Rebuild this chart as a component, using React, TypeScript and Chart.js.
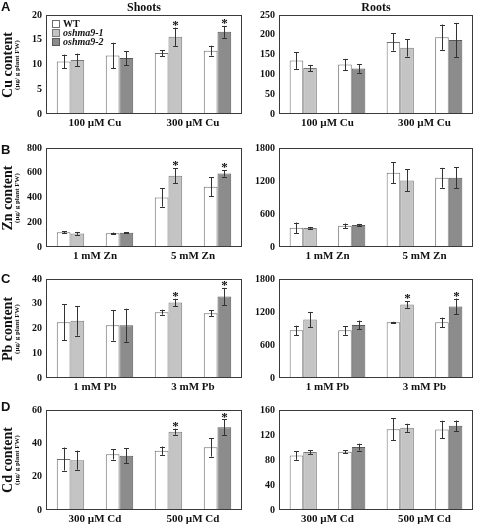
import React, { useEffect, useRef } from 'react';
import { Chart, registerables } from 'chart.js';
Chart.register(...registerables);

// ---------- data ----------
const seriesNames = ['WT', 'oshma9-1', 'oshma9-2'];

// A: Cu
const cuGroups = ['100 µM Cu', '300 µM Cu'];
const cuShootTicks = [0, 5, 10, 15, 20];
const cuShootWT = [10.6, 11.8, 12.3, 12.8];
const cuShootWTErr = [1.4, 2.6, 0.6, 1.0];
const cuShootM1 = [10.9, 15.6];
const cuShootM1Err = [1.3, 1.85];
const cuShootM1Star = [false, true];
const cuShootM2 = [11.3, 16.6];
const cuShootM2Err = [1.4, 1.2];
const cuShootM2Star = [false, true];

const cuRootTicks = [0, 50, 100, 150, 200, 250];
const cuRootWT = [135, 125, 182, 194];
const cuRootWTErr = [21, 14, 22, 32];
const cuRootM1 = [116, 167];
const cuRootM1Err = [8, 22];
const cuRootM1Star = [false, false];
const cuRootM2 = [115, 187];
const cuRootM2Err = [11, 43];
const cuRootM2Star = [false, false];

// B: Zn
const znGroups = ['1 mM Zn', '5 mM Zn'];
const znShootTicks = [0, 200, 400, 600, 800];
const znShootWT = [120, 112, 401, 487];
const znShootWTErr = [8, 5, 75, 75];
const znShootM1 = [110, 575];
const znShootM1Err = [12, 60];
const znShootM1Star = [false, true];
const znShootM2 = [115, 594];
const znShootM2Err = [5, 25];
const znShootM2Star = [false, true];

const znRootTicks = [0, 600, 1200, 1800];
const znRootWT = [350, 387, 1351, 1259];
const znRootWTErr = [95, 40, 190, 180];
const znRootM1 = [344, 1210];
const znRootM1Err = [20, 200];
const znRootM1Star = [false, false];
const znRootM2 = [400, 1259];
const znRootM2Err = [20, 195];
const znRootM2Star = [false, false];

// C: Pb
const pbGroups = ['1 mM Pb', '3 mM Pb'];
const pbShootTicks = [0, 10, 20, 30, 40];
const pbShootWT = [22.5, 21.3, 26.6, 26.2];
const pbShootWTErr = [7.2, 6.2, 1.0, 1.1];
const pbShootM1 = [23.1, 30.5];
const pbShootM1Err = [6.0, 1.5];
const pbShootM1Star = [false, true];
const pbShootM2 = [21.3, 32.9];
const pbShootM2Err = [6.7, 3.5];
const pbShootM2Star = [false, true];

const pbRootTicks = [0, 600, 1200, 1800];
const pbRootWT = [866, 866, 1013, 1013];
const pbRootWTErr = [85, 80, 10, 85];
const pbRootM1 = [1062, 1336];
const pbRootM1Err = [140, 60];
const pbRootM1Star = [false, true];
const pbRootM2 = [964, 1300];
const pbRootM2Err = [80, 145];
const pbRootM2Star = [false, true];

// D: Cd
const cdGroups = ['300 µM Cd', '500 µM Cd'];
const cdShootTicks = [0, 20, 40, 60];
const cdShootWT = [30.6, 33.4, 35.6, 37.6];
const cdShootWTErr = [6.9, 3.1, 2.5, 5.6];
const cdShootM1 = [29.9, 47.0];
const cdShootM1Err = [5.7, 1.8];
const cdShootM1Star = [false, true];
const cdShootM2 = [32.6, 49.6];
const cdShootM2Err = [4.4, 4.7];
const cdShootM2Star = [false, true];

const cdRootTicks = [0, 40, 80, 120, 160];
const cdRootWT = [87.3, 93.2, 129.3, 128.8];
const cdRootWTErr = [7, 2.5, 18, 14];
const cdRootM1 = [92.7, 131.5];
const cdRootM1Err = [3, 6.5];
const cdRootM1Star = [false, false];
const cdRootM2 = [100.7, 134.7];
const cdRootM2Err = [5.5, 8.5];
const cdRootM2Star = [false, false];

// ---------- styling ----------
const SERIF = '"Liberation Serif", "Times New Roman", serif';
const SANS = '"Liberation Sans", Arial, sans-serif';
const COLORS = {
  wtFill: '#ffffff', wtBorder: '#6e6e6e',
  m1Fill: '#c4c4c4', m1Border: '#7a7a7a',
  m2Fill: '#8c8c8c', m2Border: '#5a5a5a',
};
const Y_W = 40, PAD_T = 8, X_H = 20, PAD_R = 2;

type PanelCfg = {
  key: string; left: number; top: number; right: number; bottom: number;
  groups: string[]; ticks: number[];
  wt: number[]; wtErr: number[];
  m1: number[]; m1Err: number[]; m1Star: boolean[];
  m2: number[]; m2Err: number[]; m2Star: boolean[];
};

const spread1 = (v: any[]) => [v[0], null, v[1], null];
const spread2 = (v: any[]) => [null, v[0], null, v[1]];

const boxPlugin = {
  id: 'boxFrame',
  afterDraw(chart: any) {
    const { ctx, chartArea: a } = chart;
    ctx.save();
    ctx.strokeStyle = '#3a3a3a';
    ctx.lineWidth = 1;
    ctx.strokeRect(a.left + 0.5, a.top + 0.5, a.right - a.left - 1, a.bottom - a.top - 1);
    ctx.restore();
  },
};

const errPlugin = {
  id: 'errBars',
  afterDatasetsDraw(chart: any) {
    const { ctx } = chart;
    const ys = chart.scales.y;
    chart.data.datasets.forEach((ds: any, i: number) => {
      const meta = chart.getDatasetMeta(i);
      meta.data.forEach((el: any, j: number) => {
        const v = ds.data[j];
        if (v === null || v === undefined) return;
        const e = ds.errors[j] || 0;
        const x = Math.round(el.x) + 0.5;
        const y1 = ys.getPixelForValue(v + e);
        const y2 = ys.getPixelForValue(v - e);
        ctx.save();
        ctx.strokeStyle = '#333';
        ctx.lineWidth = 1;
        ctx.beginPath();
        ctx.moveTo(x, y1); ctx.lineTo(x, y2);
        ctx.moveTo(x - 2.5, Math.round(y1) + 0.5); ctx.lineTo(x + 2.5, Math.round(y1) + 0.5);
        ctx.moveTo(x - 2.5, Math.round(y2) + 0.5); ctx.lineTo(x + 2.5, Math.round(y2) + 0.5);
        ctx.stroke();
        if (ds.stars && ds.stars[j]) {
          ctx.fillStyle = '#111';
          ctx.font = `bold 13px ${SERIF}`;
          ctx.textAlign = 'center';
          ctx.textBaseline = 'alphabetic';
          ctx.fillText('*', x, y1 + 1);
        }
        ctx.restore();
      });
    });
  },
};

function Panel({ cfg }: { cfg: PanelCfg }) {
  const ref = useRef<HTMLCanvasElement>(null);
  const w = cfg.right - cfg.left + Y_W + PAD_R;
  const h = cfg.bottom - cfg.top + PAD_T + X_H;
  useEffect(() => {
    const m1Map = [0, null, 1, null];
    const m2Map = [null, 0, null, 1];
    const chart = new Chart(ref.current as HTMLCanvasElement, {
      type: 'bar',
      data: {
        labels: ['1', '2', '3', '4'],
        datasets: [
          {
            label: seriesNames[0], data: cfg.wt, errors: cfg.wtErr, stars: [false, false, false, false],
            backgroundColor: COLORS.wtFill, borderColor: COLORS.wtBorder, borderWidth: 1,
          } as any,
          {
            label: seriesNames[1], data: spread1(cfg.m1), errors: spread1(cfg.m1Err),
            stars: m1Map.map((k) => (k === null ? false : cfg.m1Star[k as number])),
            backgroundColor: COLORS.m1Fill, borderColor: COLORS.m1Border, borderWidth: 1,
          } as any,
          {
            label: seriesNames[2], data: spread2(cfg.m2), errors: spread2(cfg.m2Err),
            stars: m2Map.map((k) => (k === null ? false : cfg.m2Star[k as number])),
            backgroundColor: COLORS.m2Fill, borderColor: COLORS.m2Border, borderWidth: 1,
          } as any,
        ],
      },
      options: {
        animation: false,
        responsive: false,
        devicePixelRatio: 1,
        layout: { padding: { top: PAD_T, right: PAD_R, left: 0, bottom: 0 } },
        plugins: { legend: { display: false }, tooltip: { enabled: false } },
        datasets: { bar: { skipNull: true, categoryPercentage: 0.56, barPercentage: 1 } } as any,
        scales: {
          x: { display: false, offset: true },
          x2: {
            type: 'category', labels: cfg.groups, position: 'bottom', offset: true,
            grid: { display: false, drawTicks: false }, border: { display: false },
            ticks: { font: { family: SERIF, size: 11, weight: 'bold' }, color: '#111', padding: 3, maxRotation: 0, autoSkip: false },
            afterFit: (s: any) => { s.height = X_H; s.paddingLeft = 0; s.paddingRight = 0; },
          } as any,
          y: {
            min: 0, max: cfg.ticks[cfg.ticks.length - 1],
            grid: { display: false, drawTicks: false }, border: { display: false },
            ticks: {
              font: { family: SERIF, size: 10, weight: 'bold' }, color: '#111', padding: 4,
              callback: (v: any) => String(v),
            },
            afterBuildTicks: (s: any) => { s.ticks = cfg.ticks.map((v) => ({ value: v })); },
            afterFit: (s: any) => { s.width = Y_W; s.paddingTop = 0; s.paddingBottom = 0; },
          } as any,
        },
      },
      plugins: [boxPlugin, errPlugin],
    } as any);
    return () => chart.destroy();
  }, [cfg]);
  return (
    <canvas
      ref={ref}
      width={w}
      height={h}
      style={{ position: 'absolute', left: cfg.left - Y_W, top: cfg.top - PAD_T, width: w, height: h }}
    />
  );
}

const SHOOT_L = 46, SHOOT_R = 242, ROOT_L = 279, ROOT_R = 473;
const ROWS = [
  { top: 15, bottom: 114 },
  { top: 148, bottom: 247 },
  { top: 279, bottom: 378 },
  { top: 410, bottom: 510 },
];

const panels: PanelCfg[] = [
  { key: 'cuS', left: SHOOT_L, right: SHOOT_R, ...ROWS[0], groups: cuGroups, ticks: cuShootTicks, wt: cuShootWT, wtErr: cuShootWTErr, m1: cuShootM1, m1Err: cuShootM1Err, m1Star: cuShootM1Star, m2: cuShootM2, m2Err: cuShootM2Err, m2Star: cuShootM2Star },
  { key: 'cuR', left: ROOT_L, right: ROOT_R, ...ROWS[0], groups: cuGroups, ticks: cuRootTicks, wt: cuRootWT, wtErr: cuRootWTErr, m1: cuRootM1, m1Err: cuRootM1Err, m1Star: cuRootM1Star, m2: cuRootM2, m2Err: cuRootM2Err, m2Star: cuRootM2Star },
  { key: 'znS', left: SHOOT_L, right: SHOOT_R, ...ROWS[1], groups: znGroups, ticks: znShootTicks, wt: znShootWT, wtErr: znShootWTErr, m1: znShootM1, m1Err: znShootM1Err, m1Star: znShootM1Star, m2: znShootM2, m2Err: znShootM2Err, m2Star: znShootM2Star },
  { key: 'znR', left: ROOT_L, right: ROOT_R, ...ROWS[1], groups: znGroups, ticks: znRootTicks, wt: znRootWT, wtErr: znRootWTErr, m1: znRootM1, m1Err: znRootM1Err, m1Star: znRootM1Star, m2: znRootM2, m2Err: znRootM2Err, m2Star: znRootM2Star },
  { key: 'pbS', left: SHOOT_L, right: SHOOT_R, ...ROWS[2], groups: pbGroups, ticks: pbShootTicks, wt: pbShootWT, wtErr: pbShootWTErr, m1: pbShootM1, m1Err: pbShootM1Err, m1Star: pbShootM1Star, m2: pbShootM2, m2Err: pbShootM2Err, m2Star: pbShootM2Star },
  { key: 'pbR', left: ROOT_L, right: ROOT_R, ...ROWS[2], groups: pbGroups, ticks: pbRootTicks, wt: pbRootWT, wtErr: pbRootWTErr, m1: pbRootM1, m1Err: pbRootM1Err, m1Star: pbRootM1Star, m2: pbRootM2, m2Err: pbRootM2Err, m2Star: pbRootM2Star },
  { key: 'cdS', left: SHOOT_L, right: SHOOT_R, ...ROWS[3], groups: cdGroups, ticks: cdShootTicks, wt: cdShootWT, wtErr: cdShootWTErr, m1: cdShootM1, m1Err: cdShootM1Err, m1Star: cdShootM1Star, m2: cdShootM2, m2Err: cdShootM2Err, m2Star: cdShootM2Star },
  { key: 'cdR', left: ROOT_L, right: ROOT_R, ...ROWS[3], groups: cdGroups, ticks: cdRootTicks, wt: cdRootWT, wtErr: cdRootWTErr, m1: cdRootM1, m1Err: cdRootM1Err, m1Star: cdRootM1Star, m2: cdRootM2, m2Err: cdRootM2Err, m2Star: cdRootM2Star },
];

const rowLetters = ['A', 'B', 'C', 'D'];
const letterTops = [0, 143, 272, 400];
const yTitles = ['Cu content', 'Zn content', 'Pb content', 'Cd content'];
const yUnit = '(µg/ g plant FW)';

function YTitle({ text, cy }: { text: string; cy: number }) {
  return (
    <div style={{
      position: 'absolute', left: 11, top: cy, width: 120,
      transform: 'translate(-50%, -50%) rotate(-90deg)', textAlign: 'center',
      fontFamily: SERIF, fontWeight: 'bold', color: '#111', lineHeight: 1,
    }}>
      <div style={{ fontSize: 14, lineHeight: '11px' }}>{text}</div>
      <div style={{ fontSize: 7, lineHeight: '8px', fontWeight: 'bold' }}>{yUnit}</div>
    </div>
  );
}

function LegendRow({ label, fill, border, top, italic }: any) {
  return (
    <div style={{ position: 'absolute', left: 52, top, height: 9, display: 'flex', alignItems: 'center' }}>
      <div style={{ width: 6, height: 6, background: fill, border: `1px solid ${border}` }} />
      <span style={{ marginLeft: 3, fontFamily: SERIF, fontWeight: 'bold', fontStyle: italic ? 'italic' : 'normal', fontSize: 10, lineHeight: '9px', color: '#111' }}>{label}</span>
    </div>
  );
}

export default function App() {
  return (
    <div style={{ position: 'absolute', left: 0, top: 0, width: 478, height: 525, background: '#fff', overflow: 'hidden' }}>
      {panels.map((p) => <Panel key={p.key} cfg={p} />)}
      <div style={{ position: 'absolute', left: (SHOOT_L + SHOOT_R) / 2, top: 0, transform: 'translateX(-50%)', fontFamily: SERIF, fontWeight: 'bold', fontSize: 12, color: '#111' }}>Shoots</div>
      <div style={{ position: 'absolute', left: (ROOT_L + ROOT_R) / 2, top: 0, transform: 'translateX(-50%)', fontFamily: SERIF, fontWeight: 'bold', fontSize: 12, color: '#111' }}>Roots</div>
      {rowLetters.map((l, i) => (
        <div key={l} style={{ position: 'absolute', left: 1, top: letterTops[i], fontFamily: SANS, fontWeight: 'bold', fontSize: 13, lineHeight: '13px', color: '#111' }}>{l}</div>
      ))}
      {yTitles.map((t, i) => <YTitle key={t} text={t} cy={(ROWS[i].top + ROWS[i].bottom) / 2} />)}
      <LegendRow label={seriesNames[0]} fill={COLORS.wtFill} border={COLORS.wtBorder} top={19} />
      <LegendRow label={seriesNames[1]} fill={COLORS.m1Fill} border={COLORS.m1Border} top={28} italic />
      <LegendRow label={seriesNames[2]} fill={COLORS.m2Fill} border={COLORS.m2Border} top={37} italic />
    </div>
  );
}
